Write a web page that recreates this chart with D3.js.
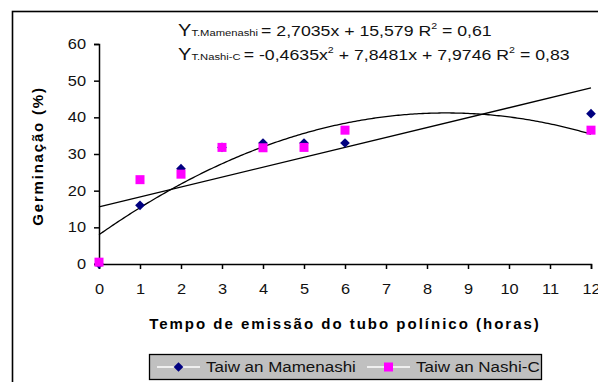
<!DOCTYPE html>
<html>
<head>
<meta charset="utf-8">
<script src="https://cdn.jsdelivr.net/npm/d3@7"></script>
<style>
  body { margin: 0; background: #fff; }
  svg { display: block; font-family: "Liberation Sans", Arial, sans-serif; }
</style>
</head>
<body>
<svg id="chart" width="598" height="382"></svg>
<script>
// data
const hours = [0, 1, 2, 3, 4, 5, 6, 12];
const mamenashi = [0, 16, 26, 31.8, 33, 33, 33, 41];
const nashiC = [0.5, 23, 24.5, 31.8, 31.7, 31.8, 36.5, 36.5];
const xTicks = [0, 1, 2, 3, 4, 5, 6, 7, 8, 9, 10, 11, 12];
const yTicks = [0, 10, 20, 30, 40, 50, 60];
// trendline coefficients, as printed on the chart (highest power first)
const linCoef = [2.7035, 15.579];
const polyCoef = [-0.4635, 7.8481, 7.9746];
const seriesNames = ['Taiw an Mamenashi', 'Taiw an Nashi-C'];

const svg = d3.select('#chart');
const x = d3.scaleLinear().domain([0, 12]).range([99, 591]);
const y = d3.scaleLinear().domain([0, 60]).range([264, 44]);

// the old chart's text is drawn a bit wider than the font; stretch it about its anchor
function stretch(sel, sx) {
  sel.each(function() {
    const t = d3.select(this);
    const ax = +t.attr('x') || 0;
    t.attr('transform', `translate(${ax},0) scale(${sx},1) translate(${-ax},0)`);
  });
}
function fitWidth(sel, w) {
  const bw = sel.node().getBBox().width;
  stretch(sel, w / bw);
}

// outer frame (runs off the right and bottom)
svg.append('rect')
  .attr('x', 12.5).attr('y', 11.5)
  .attr('width', 600).attr('height', 400)
  .attr('fill', '#fff').attr('stroke', '#000').attr('stroke-width', 1.6);

const xAxis = svg.append('g')
  .attr('transform', 'translate(0,264)')
  .call(d3.axisBottom(x).tickValues(xTicks).tickSize(5).tickPadding(15).tickFormat(d3.format('d')));
const yAxis = svg.append('g')
  .attr('transform', 'translate(99,0)')
  .call(d3.axisLeft(y).tickValues(yTicks).tickSize(5).tickPadding(8));
[xAxis, yAxis].forEach(g => {
  g.selectAll('path, line').attr('stroke', '#000').attr('stroke-width', 1.5);
  g.selectAll('text').attr('font-size', 14).attr('fill', '#111')
    .attr('font-family', '"Liberation Sans", Arial, sans-serif');
  stretch(g.selectAll('text'), 1.17);
});

// trendlines
const fineX = d3.range(0, 12.001, 0.05);
const poly = (c, v) => c.reduce((acc, k) => acc * v + k, 0);
const line = d3.line().x(d => x(d[0])).y(d => y(d[1]));
svg.append('path')
  .attr('d', line([[0, poly(linCoef, 0)], [12, poly(linCoef, 12)]]))
  .attr('fill', 'none').attr('stroke', '#000').attr('stroke-width', 1.3);
svg.append('path')
  .attr('d', line(fineX.map(v => [v, poly(polyCoef, v)])))
  .attr('fill', 'none').attr('stroke', '#000').attr('stroke-width', 1.3);

// markers
const diamond = d3.symbol().type(d3.symbolDiamond2).size(60);
svg.append('g').selectAll('path')
  .data(hours.map((h, i) => [h, mamenashi[i]]))
  .join('path')
  .attr('d', diamond)
  .attr('transform', d => `translate(${x(d[0])},${y(d[1])})`)
  .attr('fill', '#000080');
svg.append('g').selectAll('rect')
  .data(hours.map((h, i) => [h, nashiC[i]]))
  .join('rect')
  .attr('x', d => x(d[0]) - 4.5).attr('y', d => y(d[1]) - 4.5)
  .attr('width', 9).attr('height', 9)
  .attr('fill', '#ff00ff');

// axis titles
svg.append('text')
  .attr('x', 345).attr('y', 329)
  .attr('text-anchor', 'middle')
  .attr('font-size', 15).attr('font-weight', 'bold').attr('letter-spacing', 2)
  .text('Tempo de emissão do tubo polínico (horas)');
svg.append('text')
  .attr('transform', 'translate(43,156) rotate(-90)')
  .attr('text-anchor', 'middle')
  .attr('font-size', 15).attr('font-weight', 'bold').attr('letter-spacing', 1.8)
  .text('Germinação (%)');

// equations
function equation(yPos, sub, parts, w) {
  const t = svg.append('text').attr('x', 178).attr('y', yPos).attr('font-size', 15).attr('fill', '#111')
    .attr('xml:space', 'preserve');
  t.append('tspan').attr('font-size', 17).text('Y');
  t.append('tspan').attr('font-size', 9.5).text(sub + ' ');
  let up = false;
  parts.forEach(p => {
    if (p === '2') { t.append('tspan').attr('font-size', 9).attr('dy', -7).text('2'); up = true; }
    else { t.append('tspan').attr('dy', up ? 7 : 0).text(p); up = false; }
  });
  fitWidth(t, w);
}
equation(36, 'T.Mamenashi', ['= 2,7035x + 15,579 R', '2', ' = 0,61'], 314);
equation(60, 'T.Nashi-C', ['= -0,4635x', '2', ' + 7,8481x + 7,9746 R', '2', ' = 0,83'], 392);

// legend
const lg = svg.append('g');
lg.append('rect')
  .attr('x', 149.5).attr('y', 354.5).attr('width', 392).attr('height', 25)
  .attr('fill', '#c0c0c0').attr('stroke', '#000').attr('stroke-width', 1.3);
const items = [
  {x: 157, name: seriesNames[0], kind: 'diamond', w: 150},
  {x: 367, name: seriesNames[1], kind: 'square', w: 124}
];
items.forEach(it => {
  lg.append('line')
    .attr('x1', it.x).attr('x2', it.x + 43).attr('y1', 367).attr('y2', 367)
    .attr('stroke', '#fff').attr('stroke-width', 1.3);
  if (it.kind === 'diamond') {
    lg.append('path').attr('d', diamond)
      .attr('transform', `translate(${it.x + 21.5},367)`).attr('fill', '#000080');
  } else {
    lg.append('rect').attr('x', it.x + 17).attr('y', 362.5).attr('width', 9).attr('height', 9)
      .attr('fill', '#ff00ff');
  }
  const t = lg.append('text').attr('x', it.x + 49).attr('y', 372.5)
    .attr('font-size', 15).attr('fill', '#111').text(it.name);
  fitWidth(t, it.w);
});
</script>
</body>
</html>
